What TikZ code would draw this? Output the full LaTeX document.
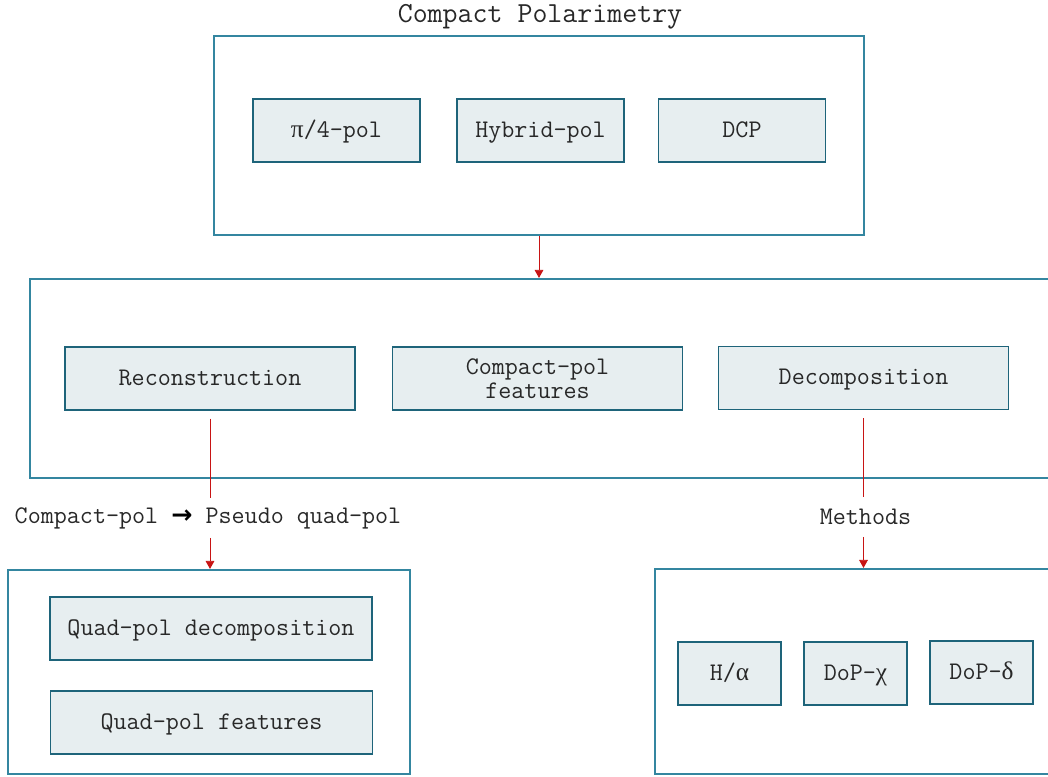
\documentclass[tikz,border=0pt]{standalone}
\usepackage{fontspec}
\setmonofont{Latin Modern Mono}
\newfontfamily\grk{Liberation Serif}
\newfontfamily\arw{DejaVu Sans}
\usetikzlibrary{arrows.meta}
\definecolor{framec}{RGB}{52,134,160}
\definecolor{boxline}{RGB}{30,100,122}
\definecolor{boxfill}{RGB}{231,238,240}
\definecolor{linkc}{RGB}{200,20,20}
\definecolor{txt}{RGB}{40,40,40}
\tikzset{
  frame/.style={draw=framec, line width=1.6pt, inner sep=0pt},
  itembox/.style={draw=boxline, fill=boxfill, line width=1.1pt, inner sep=0pt,
    minimum height=47.25pt, text=txt, font=\ttfamily\fontsize{19}{18}\selectfont, align=center},
  oneline/.style={text height=11.2pt, text depth=1pt},
  label/.style={inner sep=0pt, text=txt, font=\ttfamily\fontsize{19}{18}\selectfont},
  link/.style={draw=linkc, line width=0.6pt},
  tip/.style={-{Triangle[width=6.5pt,length=6pt]}}
}
\begin{document}
\begin{tikzpicture}[x=0.75pt,y=-0.75pt]
\useasboundingbox (0,0) rectangle (1048,776);

% top group
\node[label, font=\ttfamily\fontsize{21.8}{22}\selectfont] (title) at (540,17) {Compact Polarimetry};
\node[frame, minimum width=487.5pt, minimum height=149.25pt] (top) at (539,135.5) {};
\node[itembox, oneline, minimum width=125.25pt] (pi4) at (336.5,130.5) {{\grk π}/4-pol};
\node[itembox, oneline, minimum width=125.25pt] (hyb) at (540.5,130.5) {Hybrid-pol};
\node[itembox, oneline, minimum width=125.25pt] (dcp) at (742,130.5) {DCP};

% middle group
\node[frame, minimum width=772.5pt, minimum height=149.25pt] (mid) at (545,378.5) {};
\node[itembox, oneline, minimum width=217.5pt] (rec) at (210,378.5) {Reconstruction};
\node[itembox, minimum width=217.5pt] (cpf) at (537.5,378.5) {Compact-pol\\features};
\node[itembox, oneline, minimum width=217.5pt] (dec) at (863.5,378) {Decomposition};

% bottom-left group
\node[frame, minimum width=301.5pt, minimum height=153pt] (bl) at (209,672) {};
\node[itembox, oneline, minimum width=241.5pt] (qpd) at (211,628.5) {Quad-pol decomposition};
\node[itembox, oneline, minimum width=241.5pt] (qpf) at (211.5,722.5) {Quad-pol features};

% bottom-right group
\node[frame, minimum width=303.75pt, minimum height=153.75pt] (br) at (857.5,671.5) {};
\node[itembox, oneline, minimum width=77.25pt] (ha) at (729.5,673.5) {H/{\grk α}};
\node[itembox, oneline, minimum width=77.25pt] (dchi) at (855.5,673.5) {DoP-{\grk χ}};
\node[itembox, oneline, minimum width=77.25pt] (ddel) at (981.5,672.5) {DoP-{\grk δ}};

% connector labels
\node[label, minimum height=29.25pt] (lab1) at (208,518) {Compact-pol {\arw\bfseries\color{black}→} Pseudo quad-pol};
\node[label, minimum height=29.25pt] (lab2) at (865.5,517) {Methods};

% connectors
\draw[link, tip] (top.south) -- (top.south |- mid.north);
\draw[link, shorten <=6pt] (rec.south) -- (rec.south |- lab1.north);
\draw[link, tip] (rec.south |- lab1.south) -- (rec.south |- bl.north);
\draw[link, shorten <=6pt] (dec.south) -- (dec.south |- lab2.north);
\draw[link, tip] (dec.south |- lab2.south) -- (dec.south |- br.north);
\end{tikzpicture}
\end{document}
